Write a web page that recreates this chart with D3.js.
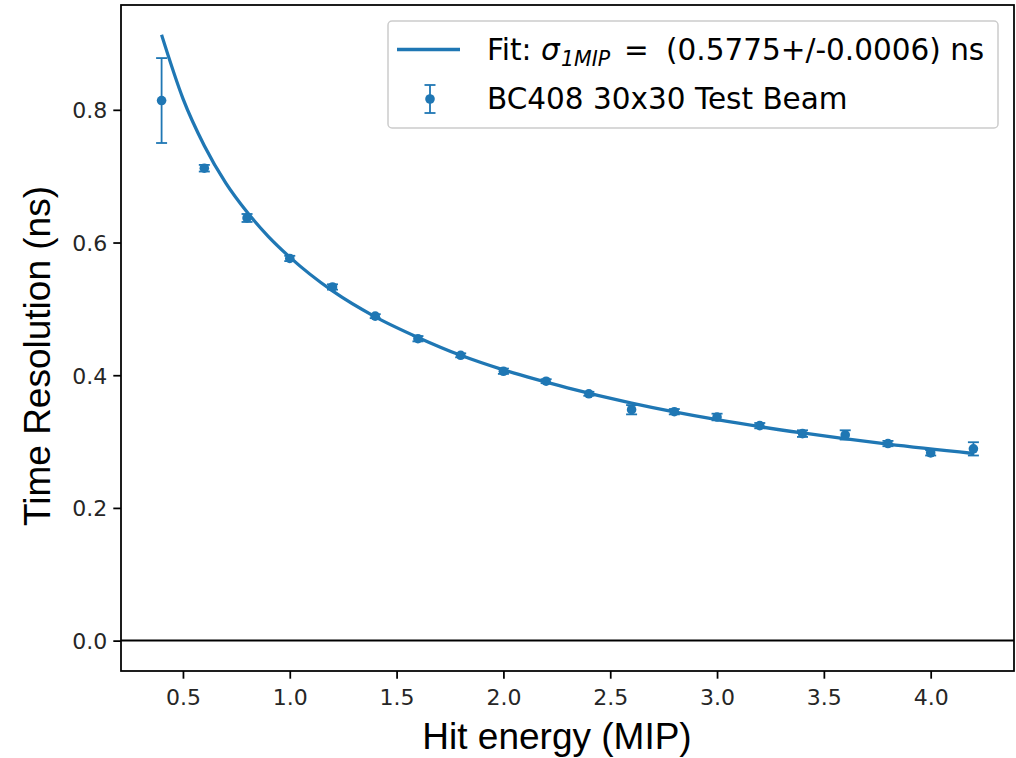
<!DOCTYPE html>
<html>
<head>
<meta charset="utf-8">
<script src="https://cdn.jsdelivr.net/npm/d3@7"></script>
<style>
  body { margin: 0; background: #fff; }
  text { font-family: "DejaVu Sans", sans-serif; }
</style>
</head>
<body>
<div id="chart"></div>
<script>
// measured points (hit energy in MIP, time resolution in ns, error)
let energies = [0.4, 0.6, 0.8, 1.0, 1.2, 1.4, 1.6, 1.8, 2.0, 2.2, 2.4, 2.6, 2.8, 3.0, 3.2, 3.4, 3.6, 3.8, 4.0, 4.2];
let resolutions = [0.814, 0.712, 0.637, 0.576, 0.533, 0.489, 0.455, 0.430, 0.406, 0.391, 0.372, 0.348, 0.345, 0.337, 0.324, 0.312, 0.310, 0.297, 0.283, 0.289];
let errors = [0.064, 0.005, 0.006, 0.004, 0.004, 0.003, 0.004, 0.003, 0.004, 0.003, 0.003, 0.007, 0.004, 0.005, 0.004, 0.005, 0.007, 0.004, 0.004, 0.010];

// fit curve
let fitEnergies = [0.4, 0.5, 0.6, 0.7, 0.8, 0.9, 1.0, 1.2, 1.4, 1.6, 1.8, 2.0, 2.3, 2.6, 3.0, 3.4, 3.8, 4.2];
let fitValues = [0.913, 0.817, 0.746, 0.690, 0.646, 0.609, 0.578, 0.527, 0.488, 0.457, 0.430, 0.408, 0.381, 0.358, 0.333, 0.313, 0.296, 0.282];

let xTicks = [0.5, 1.0, 1.5, 2.0, 2.5, 3.0, 3.5, 4.0];
let yTicks = [0.0, 0.2, 0.4, 0.6, 0.8];

let w = 1016, h = 758;
let blue = "#1f77b4";
let plotLeft = 121, plotRight = 1014, plotTop = 5, plotBottom = 671;

let svg = d3.select("#chart")
    .append("svg")
    .attr("width", w)
    .attr("height", h);

let x = d3.scaleLinear().domain([0.21, 4.39]).range([plotLeft, plotRight]);
let y = d3.scaleLinear().domain([-0.0458, 0.958]).range([plotBottom, plotTop]);

// axes with matplotlib-like ticks
let xAxis = svg.append("g")
    .attr("transform", `translate(0,${plotBottom})`)
    .call(d3.axisBottom(x).tickValues(xTicks).tickFormat(d3.format(".1f")).tickSize(7.7).tickPadding(5));
let yAxis = svg.append("g")
    .attr("transform", `translate(${plotLeft},0)`)
    .call(d3.axisLeft(y).tickValues(yTicks).tickFormat(d3.format(".1f")).tickSize(7.7).tickPadding(6));

[xAxis, yAxis].forEach(a => {
    a.select(".domain").remove();
    a.selectAll(".tick line").attr("stroke", "#000").attr("stroke-width", 1.76);
    a.selectAll(".tick text")
        .attr("fill", "#262626")
        .style("font-family", "'DejaVu Sans', sans-serif")
        .style("font-size", "22px");
});
yAxis.selectAll(".tick text").attr("dy", "0.36em");
xAxis.selectAll(".tick text").attr("dy", "0.98em");

// horizontal line at zero
svg.append("line")
    .attr("x1", plotLeft).attr("x2", plotRight)
    .attr("y1", y(0)).attr("y2", y(0))
    .attr("stroke", "#000").attr("stroke-width", 2);

// fit line
let line = d3.line()
    .x((d, i) => x(fitEnergies[i]))
    .y(d => y(d))
    .curve(d3.curveMonotoneX);
svg.append("path")
    .datum(fitValues)
    .attr("d", line)
    .attr("fill", "none")
    .attr("stroke", blue)
    .attr("stroke-width", 3.3);

// error bars
let pts = energies.map((e, i) => ({e: e, r: resolutions[i], err: errors[i]}));
let eb = svg.append("g").selectAll("g").data(pts).enter().append("g");
eb.append("line")
    .attr("x1", d => x(d.e)).attr("x2", d => x(d.e))
    .attr("y1", d => y(d.r - d.err)).attr("y2", d => y(d.r + d.err))
    .attr("stroke", blue).attr("stroke-width", 1.8);
[-1, 1].forEach(s => {
    eb.append("line")
        .attr("x1", d => x(d.e) - 5.5).attr("x2", d => x(d.e) + 5.5)
        .attr("y1", d => y(d.r + s * d.err)).attr("y2", d => y(d.r + s * d.err))
        .attr("stroke", blue).attr("stroke-width", 1.8);
});
eb.append("circle")
    .attr("cx", d => x(d.e)).attr("cy", d => y(d.r))
    .attr("r", 4.8)
    .attr("fill", blue);

// frame
svg.append("rect")
    .attr("x", plotLeft).attr("y", plotTop)
    .attr("width", plotRight - plotLeft).attr("height", plotBottom - plotTop)
    .attr("fill", "none").attr("stroke", "#000").attr("stroke-width", 1.76);

// legend
let legendFont = "29.5px";
let lg = svg.append("g");
lg.append("rect")
    .attr("x", 388).attr("y", 21)
    .attr("width", 610).attr("height", 107)
    .attr("rx", 4).attr("ry", 4)
    .attr("fill", "#fff").attr("fill-opacity", 0.8)
    .attr("stroke", "#cccccc").attr("stroke-width", 1.5);
lg.append("line")
    .attr("x1", 397).attr("x2", 460).attr("y1", 49.5).attr("y2", 49.5)
    .attr("stroke", blue).attr("stroke-width", 3.3);
let t1 = lg.append("text")
    .attr("y", 60)
    .attr("fill", "#000")
    .style("font-size", legendFont)
    .attr("xml:space", "preserve");
t1.append("tspan").attr("x", 487).text("Fit: ");
t1.append("tspan").attr("x", 541).style("font-style", "italic").text("σ");
t1.append("tspan").attr("x", 561).attr("dy", 6).style("font-style", "italic").style("font-size", "20.5px").text("1MIP");
t1.append("tspan").attr("x", 624).attr("dy", -6).text("=");
t1.append("tspan").attr("x", 666).text("(0.5775+/-0.0006) ns");

// errorbar legend symbol
lg.append("line").attr("x1", 430).attr("x2", 430).attr("y1", 85).attr("y2", 113)
    .attr("stroke", blue).attr("stroke-width", 1.8);
[85, 113].forEach(cy => {
    lg.append("line").attr("x1", 424.5).attr("x2", 435.5).attr("y1", cy).attr("y2", cy)
        .attr("stroke", blue).attr("stroke-width", 1.8);
});
lg.append("circle").attr("cx", 430).attr("cy", 99).attr("r", 4.8).attr("fill", blue);
lg.append("text")
    .attr("x", 487).attr("y", 109)
    .attr("fill", "#000")
    .style("font-size", legendFont)
    .text("BC408 30x30 Test Beam");

// axis labels
svg.append("text")
    .attr("x", 557).attr("y", 749)
    .attr("text-anchor", "middle")
    .style("font-family", "'Liberation Sans', Arial, sans-serif")
    .style("font-size", "37px")
    .text("Hit energy (MIP)");
svg.append("text")
    .attr("transform", `translate(50,356) rotate(-90)`)
    .attr("text-anchor", "middle")
    .style("font-family", "'Liberation Sans', Arial, sans-serif")
    .style("font-size", "37px")
    .text("Time Resolution (ns)");
</script>
</body>
</html>
